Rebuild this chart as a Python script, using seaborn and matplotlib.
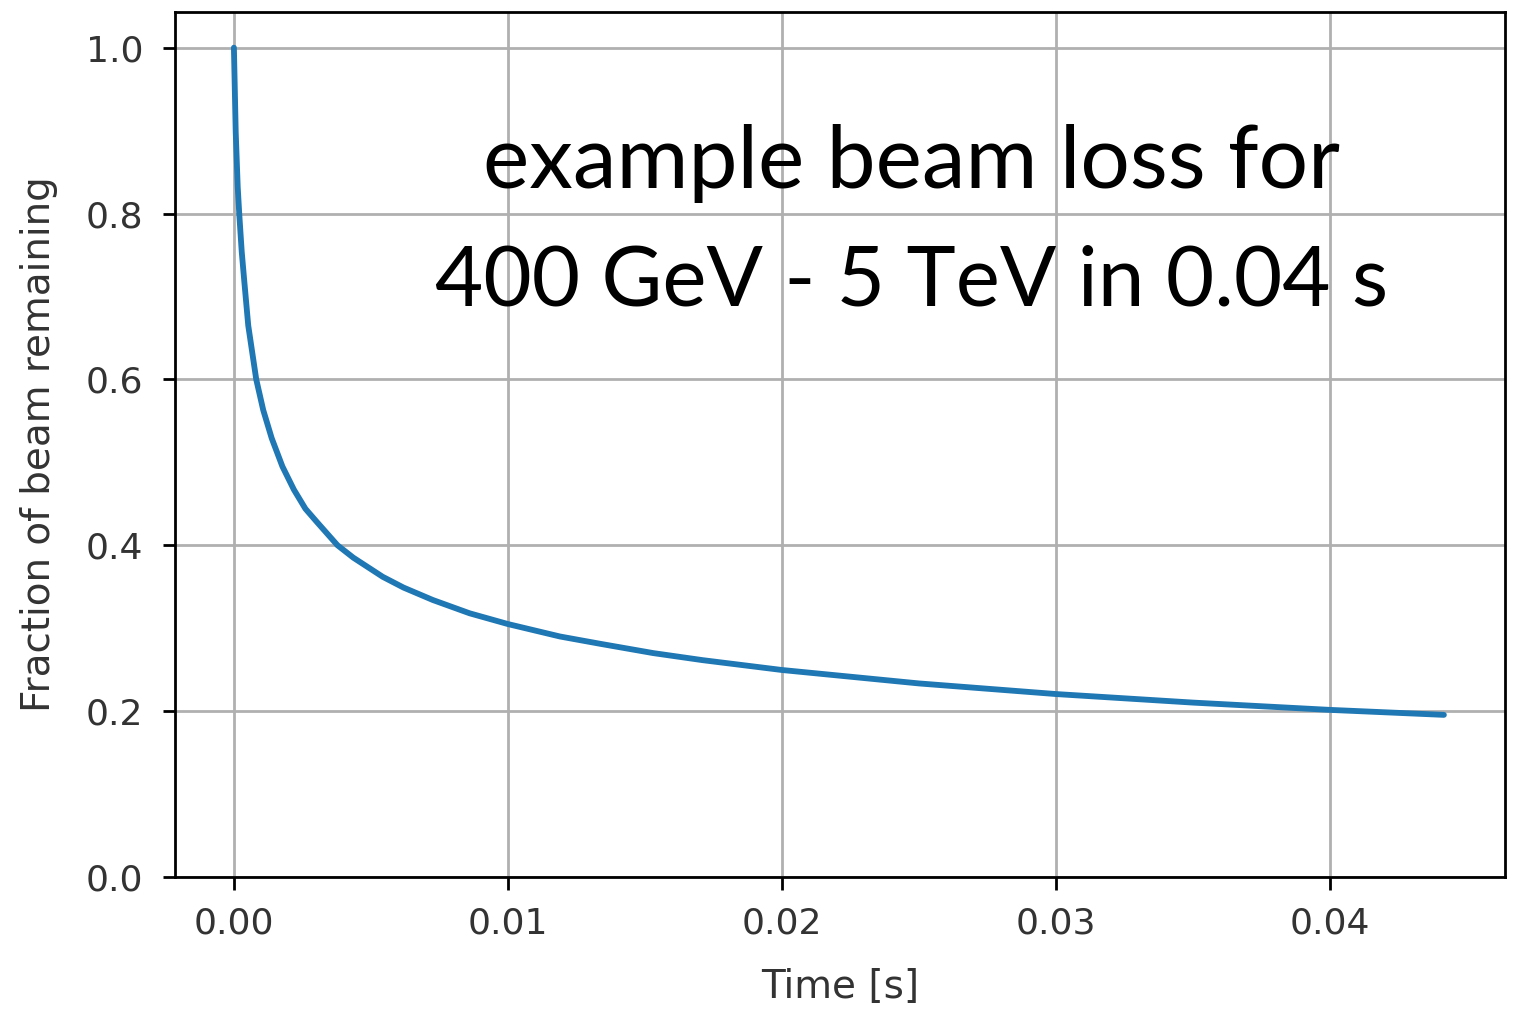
import matplotlib
matplotlib.use('Agg')
import matplotlib.pyplot as plt
import seaborn as sns
import pandas as pd

# Werte
time_s = [0.0, 0.000066, 0.000139, 0.000194, 0.000285, 0.000377, 0.000523,
          0.000815, 0.00107, 0.00138, 0.00177, 0.00219, 0.00261, 0.00303,
          0.00378, 0.00436, 0.00543, 0.00619, 0.00726, 0.0086, 0.01,
          0.0119, 0.0134, 0.0153, 0.0171, 0.02, 0.025, 0.03, 0.035, 0.04,
          0.04416]
fraction = [1.0, 0.898, 0.832, 0.80, 0.754, 0.719, 0.665,
            0.60, 0.563, 0.529, 0.495, 0.467, 0.444, 0.428,
            0.40, 0.385, 0.362, 0.349, 0.334, 0.318, 0.305,
            0.290, 0.281, 0.270, 0.2615, 0.2496, 0.2334, 0.2206, 0.2103, 0.2015,
            0.1955]

annot_lines = ['example beam loss for', '400 GeV - 5 TeV in 0.04 s']

df = pd.DataFrame({'t': time_s, 'f': fraction})

sns.set_style('ticks', {'axes.edgecolor': 'black', 'axes.grid': True,
                        'grid.color': '#b0b0b0'})
plt.rcParams['font.family'] = ['DejaVu Sans']

fig = plt.figure(figsize=(15.22, 10.1), dpi=100)
ax = fig.add_axes([175 / 1522, 133 / 1010, 1330 / 1522, 865 / 1010])

sns.lineplot(data=df, x='t', y='f', ax=ax, color='#1f77b4', linewidth=4.2)

ax.set_ylim(0, 1.043)
ax.set_xlim(-0.00215, 0.04639)
ax.set_xticks([0.0, 0.01, 0.02, 0.03, 0.04])
ax.set_xticklabels(['0.00', '0.01', '0.02', '0.03', '0.04'])
ax.set_yticks([0.0, 0.2, 0.4, 0.6, 0.8, 1.0])
ax.set_yticklabels(['0.0', '0.2', '0.4', '0.6', '0.8', '1.0'])

ax.grid(True, color='#b0b0b0', linewidth=2.0)
for sp in ax.spines.values():
    sp.set_linewidth(2.0)
    sp.set_color('black')
ax.tick_params(axis='both', labelsize=26, length=9, width=2.0,
               colors='black', labelcolor='#333333')
ax.tick_params(axis='x', pad=12)
ax.tick_params(axis='y', pad=14)

ax.set_xlabel('Time [s]', fontsize=28, color='#333333', labelpad=20)
ax.set_ylabel('Fraction of beam remaining', fontsize=28, color='#333333',
              labelpad=20)

# Beschriftung im Diagramm
fig.text(912 / 1522, 1 - 188 / 1010, annot_lines[0], ha='center',
         va='baseline', fontsize=63, family=['Lato', 'DejaVu Sans'],
         color='black')
fig.text(912 / 1522, 1 - 305 / 1010, annot_lines[1], ha='center',
         va='baseline', fontsize=60, family=['Lato', 'DejaVu Sans'],
         color='black')

plt.savefig('out.png', dpi=100)
